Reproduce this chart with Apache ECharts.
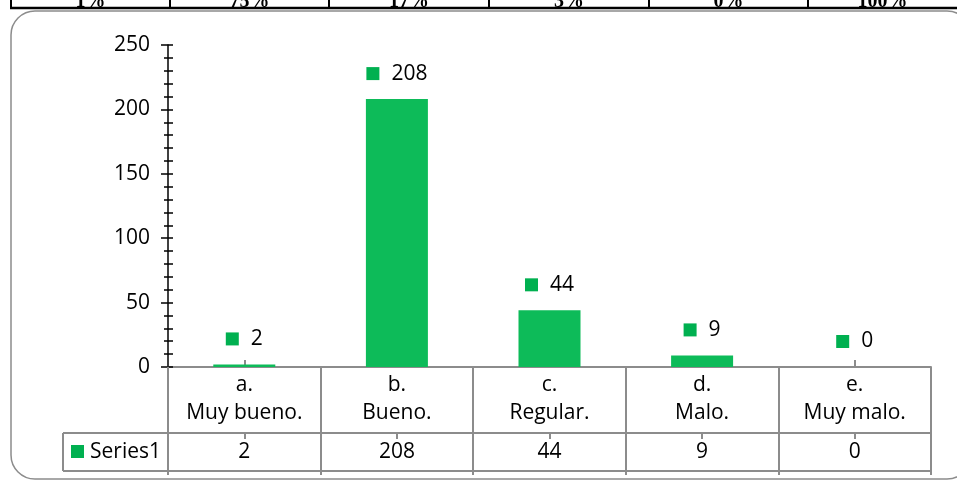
<!DOCTYPE html>
<html>
<head>
<meta charset="utf-8">
<script src="https://cdn.jsdelivr.net/npm/echarts@6/dist/echarts.min.js"></script>
<style>
  html, body { margin: 0; padding: 0; background: #fff; }
  #main { width: 957px; height: 480px; }
</style>
</head>
<body>
<div id="main"></div>
<script>
// datos del gráfico
var categorias = ['a.\nMuy bueno.', 'b.\nBueno.', 'c.\nRegular.', 'd.\nMalo.', 'e.\nMuy malo.'];
var valores = [2, 208, 44, 9, 0];
var serieNombre = 'Series1';
// fila de porcentajes de la tabla de arriba (cortada)
var porcentajes = ['1%', '75%', '17%', '3%', '0%', '100%'];

var gris = '#8c8c8c';
var verdeBarra = '#0dbb59';
var verdeClave = '#00b050';
var fuente = '"Open Sans", "Liberation Sans", sans-serif';
var tam = 21;

var myChart = echarts.init(document.getElementById('main'));

// fila de la tabla superior
var colX = [11, 170, 329, 489, 649, 808, 957];
var graficos = [
    {type: 'line', shape: {x1: 10, y1: 8, x2: 957, y2: 8}, style: {stroke: '#000', lineWidth: 2.5}},
    {type: 'rect', shape: {x: 11, y: 11, width: 960, height: 468, r: 24},
        style: {fill: 'none', stroke: gris, lineWidth: 1.5}, z: -1}
];
for (var i = 0; i < colX.length - 1; i++) {
    graficos.push({type: 'line', shape: {x1: colX[i], y1: 0, x2: colX[i], y2: 8},
        style: {stroke: '#000', lineWidth: 2}});
    graficos.push({type: 'text', x: (colX[i] + colX[i + 1]) / 2, y: 12,
        style: {text: porcentajes[i], fill: '#000', font: 'bold 20px "Liberation Serif", serif',
            align: 'center', verticalAlign: 'bottom'}});
}
// celda "Series1" de la tabla de datos
graficos.push(
    {type: 'line', shape: {x1: 63, y1: 433, x2: 168, y2: 433}, style: {stroke: gris, lineWidth: 2}},
    {type: 'line', shape: {x1: 63, y1: 471, x2: 168, y2: 471}, style: {stroke: gris, lineWidth: 2}},
    {type: 'line', shape: {x1: 63, y1: 433, x2: 63, y2: 471}, style: {stroke: gris, lineWidth: 2}},
    {type: 'rect', shape: {x: 71, y: 445, width: 13, height: 13}, style: {fill: verdeClave}},
    {type: 'text', x: 90, y: 452, style: {text: serieNombre, fill: '#000', font: tam + 'px ' + fuente,
        verticalAlign: 'middle'}}
);

var option = {
    animation: false,
    grid: {left: 168, right: 26, top: 45, bottom: 113},
    xAxis: [
        {
            type: 'category',
            data: categorias,
            axisLine: {onZero: false, lineStyle: {color: gris, width: 2}},
            axisTick: {show: true, interval: 0, length: 108, lineStyle: {color: gris, width: 2}},
            axisLabel: {interval: 0, color: '#000', fontSize: tam, fontFamily: fuente,
                lineHeight: 28, margin: 4}
        },
        {
            type: 'category',
            data: valores.map(String),
            position: 'bottom',
            offset: 66,
            axisLine: {onZero: false, lineStyle: {color: gris, width: 2}},
            axisTick: {show: true, alignWithLabel: true, length: 6, lineStyle: {color: gris, width: 2}},
            axisLabel: {interval: 0, color: '#000', fontSize: tam, fontFamily: fuente,
                lineHeight: 24, margin: 7}
        },
        {
            type: 'category',
            data: categorias,
            position: 'bottom',
            offset: 104,
            axisLine: {onZero: false, lineStyle: {color: gris, width: 2}},
            axisTick: {show: false},
            axisLabel: {show: false}
        },
        {
            type: 'category',
            data: categorias,
            position: 'bottom',
            axisLine: {show: false, onZero: false},
            axisTick: {show: true, alignWithLabel: true, inside: true, length: 7,
                lineStyle: {color: gris, width: 2}},
            axisLabel: {show: false}
        }
    ],
    yAxis: [
        {
            type: 'value',
            min: 0,
            max: 250,
            interval: 50,
            axisLine: {show: true, lineStyle: {color: '#000', width: 1.5}},
            axisTick: {show: true, length: 7, lineStyle: {color: '#000', width: 1.5}},
            minorTick: {show: true, splitNumber: 5, length: 4, lineStyle: {color: '#000', width: 1.5}},
            splitLine: {show: false},
            axisLabel: {color: '#000', fontSize: tam, fontFamily: fuente, margin: 18}
        },
        {
            type: 'value',
            min: 0,
            max: 250,
            interval: 50,
            position: 'left',
            axisLine: {show: false},
            axisTick: {show: true, inside: true, length: 5, lineStyle: {color: '#000', width: 1.5}},
            minorTick: {show: true, splitNumber: 5, length: 5, lineStyle: {color: '#000', width: 1.5}},
            splitLine: {show: false},
            axisLabel: {show: false}
        }
    ],
    graphic: graficos,
    series: [
        {
            name: serieNombre,
            type: 'bar',
            data: valores,
            barWidth: 62,
            itemStyle: {color: verdeBarra},
            label: {
                show: true,
                position: 'top',
                distance: 15,
                formatter: '{s|}{v|{c}}',
                rich: {
                    s: {width: 13, height: 13, backgroundColor: verdeClave},
                    v: {color: '#000', fontSize: tam, fontFamily: fuente, padding: [0, 0, 0, 12]}
                }
            }
        }
    ]
};

myChart.setOption(option);
</script>
</body>
</html>
